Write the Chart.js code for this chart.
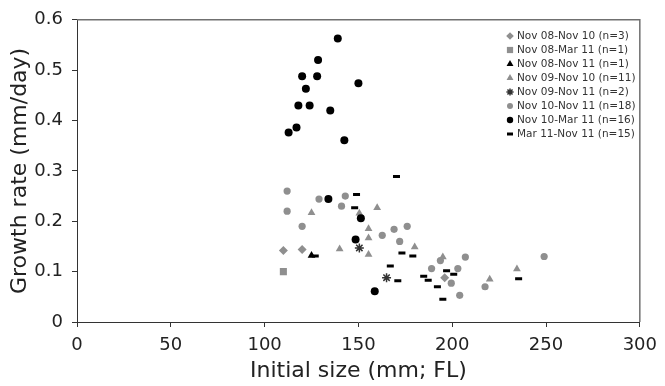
<!DOCTYPE html>
<html>
<head>
<meta charset="utf-8">
<script src="https://cdn.jsdelivr.net/npm/chart.js@4.4.1/dist/chart.umd.min.js"></script>
<style>
html,body{margin:0;padding:0;background:#fff;}
#wrap{width:665px;height:386px;}
</style>
</head>
<body>
<div id="wrap"><canvas id="growthChart" width="665" height="386"></canvas></div>
<script>
// size (mm FL) vs growth rate (mm/day), one list per recapture interval
const seriesLabels=["Nov 08-Nov 10 (n=3)","Nov 08-Mar 11 (n=1)","Nov 08-Nov 11 (n=1)","Nov 09-Nov 10 (n=11)","Nov 09-Nov 11 (n=2)","Nov 10-Nov 11 (n=18)","Nov 10-Mar 11 (n=16)","Mar 11-Nov 11 (n=15)"];
const nov08Nov10=[[110,0.142],[120,0.144],[196,0.088]];
const nov08Mar11=[[110,0.100]];
const nov08Nov11=[[125,0.132]];
const nov09Nov10=[[125,0.217],[140,0.145],[150.5,0.216],[155.4,0.185],[155.4,0.167],[155.4,0.134],[160,0.227],[180,0.149],[195,0.129],[220,0.085],[234.5,0.105]];
const nov09Nov11=[[150.5,0.147],[165,0.088]];
const nov10Nov11=[[112,0.260],[112,0.220],[120,0.190],[129,0.244],[141,0.230],[143,0.250],[162.7,0.172],[169,0.184],[176,0.190],[172,0.160],[189,0.106],[193.7,0.122],[203,0.106],[207,0.129],[199.5,0.077],[204,0.053],[217.5,0.070],[249,0.130]];
const nov10Mar11=[[112.8,0.376],[117,0.386],[118,0.430],[120,0.488],[122,0.463],[124,0.430],[128,0.488],[128.5,0.520],[135,0.420],[139,0.563],[142.5,0.361],[150,0.474],[134,0.244],[151.3,0.206],[148.5,0.164],[158.7,0.061]];
const mar11Nov11=[[127,0.131],[149,0.253],[148,0.227],[170.3,0.289],[173.2,0.137],[179,0.131],[167,0.111],[171,0.082],[184.8,0.091],[187.2,0.083],[192.1,0.070],[197,0.102],[200.8,0.095],[195,0.045],[235.4,0.086]];
const xTickLabels=["0","50","100","150","200","250","300"];
const yTickLabels=["0","0.1","0.2","0.3","0.4","0.5","0.6"];

const grey="#8f8f8f";
const black="#000000";
const font="'DejaVu Sans', Verdana, sans-serif";

function pts(list){return list.map(p=>({x:p[0],y:p[1]}));}

function makeSet(i,list,style,color,radius,bw,legendRadius,order){
    return {
        label:seriesLabels[i],
        data:pts(list),
        pointStyle:style,
        pointRadius:radius,
        pointBackgroundColor:color,
        pointBorderColor:color,
        pointBorderWidth:bw,
        legendRadius:legendRadius,
        order:order
    };
}

const datasets=[
    makeSet(0,nov08Nov10,'rectRot',grey,4.5,0,3.8,1),
    makeSet(1,nov08Mar11,'rect',grey,5,0,4.4,1),
    makeSet(2,nov08Nov11,'triangle',black,4.5,0,4,1),
    makeSet(3,nov09Nov10,'triangle',grey,4.5,0,4,1),
    makeSet(4,nov09Nov11,'star',"#333",4.5,1.5,3.6,1),
    makeSet(5,nov10Nov11,'circle',grey,3.6,0,3,1),
    makeSet(6,nov10Mar11,'circle',black,4,0,3.2,0),
    makeSet(7,mar11Nov11,'line',black,3.5,3,3,1)
];

const frameLines={
    id:'frameLines',
    beforeDatasetsDraw(chart){
        const a=chart.chartArea, ctx=chart.ctx;
        ctx.save();
        ctx.strokeStyle="#707070";
        ctx.lineWidth=1.5;
        ctx.beginPath();
        ctx.moveTo(a.left,a.top);
        ctx.lineTo(a.right,a.top);
        ctx.lineTo(a.right,a.bottom);
        ctx.stroke();
        ctx.restore();
    }
};

const boxLegend={
    id:'boxLegend',
    afterDraw(chart){
        const ctx=chart.ctx;
        ctx.save();
        ctx.font="10.5px "+font;
        ctx.textBaseline='middle';
        ctx.textAlign='left';
        chart.data.datasets.forEach((ds,i)=>{
            const y=36+i*14;
            ctx.fillStyle=ds.pointBackgroundColor;
            ctx.strokeStyle=ds.pointBorderColor;
            ctx.lineWidth=ds.pointBorderWidth||1;
            Chart.helpers.drawPoint(ctx,{pointStyle:ds.pointStyle,radius:ds.legendRadius,rotation:0,borderWidth:ds.pointBorderWidth},510,y);
            ctx.fillStyle="#333";
            ctx.fillText(ds.label,517,y+0.5);
        });
        ctx.restore();
    }
};

new Chart(document.getElementById("growthChart"),{
    type:'scatter',
    data:{datasets:datasets},
    plugins:[frameLines,boxLegend],
    options:{
        responsive:false,
        animation:false,
        events:[],
        layout:{padding:{top:15,right:17,left:0,bottom:0}},
        plugins:{legend:{display:false},tooltip:{enabled:false}},
        scales:{
            x:{
                type:'linear',min:0,max:300,
                ticks:{stepSize:50,padding:8,color:"#222",font:{family:font,size:18},callback:(v,i)=>xTickLabels[i]},
                grid:{drawOnChartArea:false,drawTicks:true,tickLength:5,color:"#333"},
                border:{color:"#333",width:1},
                title:{display:true,text:"Initial size (mm; FL)",color:"#222",font:{family:font,size:22},padding:{top:0,bottom:2}},
                afterFit(s){s.height=64;}
            },
            y:{
                type:'linear',min:0,max:0.6,
                ticks:{stepSize:0.1,padding:9,color:"#222",font:{family:font,size:18},callback:(v,i)=>yTickLabels[i]},
                grid:{drawOnChartArea:false,drawTicks:true,tickLength:5,color:"#333"},
                border:{color:"#333",width:1},
                title:{display:true,text:"Growth rate (mm/day)",color:"#222",font:{family:font,size:22},padding:{top:7,bottom:0}},
                afterFit(s){s.width=77;}
            }
        }
    }
});
</script>
</body>
</html>
